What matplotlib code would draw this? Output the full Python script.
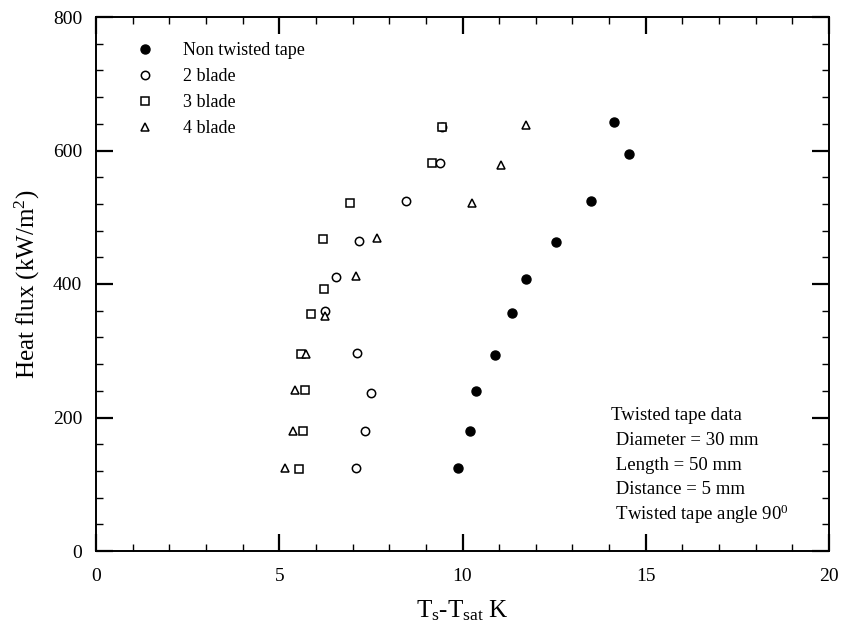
import matplotlib
matplotlib.use("Agg")
import matplotlib.pyplot as plt
from matplotlib.ticker import MultipleLocator

plt.rcParams['font.family'] = ['Liberation Serif', 'DejaVu Serif']
plt.rcParams['mathtext.fontset'] = 'custom'
plt.rcParams['mathtext.rm'] = 'Liberation Serif'
plt.rcParams['mathtext.it'] = 'Liberation Serif'

# Data (T_s - T_sat in K, heat flux in kW/m^2)
non_x = [9.89, 10.21, 10.36, 10.89, 11.35, 11.72, 12.54, 13.51, 14.55, 14.13]
non_y = [124, 180, 240, 294, 356, 408, 463, 525, 595, 642]

b2_x = [7.09, 7.34, 7.50, 7.11, 6.25, 6.54, 7.18, 8.45, 9.39, 9.43]
b2_y = [125, 180, 236, 296, 360, 410, 464, 525, 582, 635]

b3_x = [5.55, 5.66, 5.70, 5.59, 5.86, 6.23, 6.20, 6.93, 9.18, 9.43]
b3_y = [123, 180, 241, 295, 355, 393, 467, 522, 581, 635]

b4_x = [5.16, 5.37, 5.43, 5.73, 6.25, 7.09, 7.66, 10.27, 11.04, 11.72]
b4_y = [125, 180, 241, 295, 352, 412, 469, 521, 578, 638]

labels = ['Non twisted tape', '2 blade', '3 blade', '4 blade']
info_lines = ['Twisted tape data', ' Diameter = 30 mm', ' Length = 50 mm',
              ' Distance = 5 mm', r' Twisted tape angle 90$^{0}$']

fig = plt.figure(figsize=(8.43, 6.38), dpi=100)
ax = fig.add_axes([96/843, 1-551/638, (829-96)/843, (551-17)/638])

ms = 6
ax.plot(non_x, non_y, 'o', color='black', ms=6.5, ls='none', label=labels[0])
ax.plot(b2_x, b2_y, 'o', mfc='white', mec='black', mew=1.1, ms=ms, ls='none', label=labels[1])
ax.plot(b3_x, b3_y, 's', mfc='white', mec='black', mew=1.1, ms=ms, ls='none', label=labels[2])
ax.plot(b4_x, b4_y, '^', mfc='white', mec='black', mew=1.1, ms=ms, ls='none', label=labels[3])

ax.set_xlim(0, 20)
ax.set_ylim(0, 800)
ax.xaxis.set_major_locator(MultipleLocator(5))
ax.xaxis.set_minor_locator(MultipleLocator(1))
ax.yaxis.set_major_locator(MultipleLocator(200))
ax.yaxis.set_minor_locator(MultipleLocator(40))
ax.tick_params(which='both', direction='in', top=True, right=True, labelsize=14)
ax.tick_params(which='major', length=12, width=1.6)
ax.tick_params(which='minor', length=5, width=1.0)
ax.tick_params(axis='x', which='major', pad=12)
ax.tick_params(axis='y', which='major', pad=10)
for s in ax.spines.values():
    s.set_linewidth(1.4)

ax.set_xlabel(r'T$_{\rm s}$-T$_{\rm sat}$ K', fontsize=18, labelpad=10)
ax.set_ylabel(r'Heat flux (kW/m$^{2}$)', fontsize=18, labelpad=8)

leg = ax.legend(loc='upper left', bbox_to_anchor=(0.045, 0.966), frameon=False,
                fontsize=13, handletextpad=1.6, labelspacing=0.5, handlelength=1.0,
                borderaxespad=0)

for i, line in enumerate(info_lines):
    ax.text(611/843, 1-(416+i*24.5)/638, line, transform=fig.transFigure,
            fontsize=13.5, va='center', ha='left')

fig.savefig('out.png', dpi=100)
